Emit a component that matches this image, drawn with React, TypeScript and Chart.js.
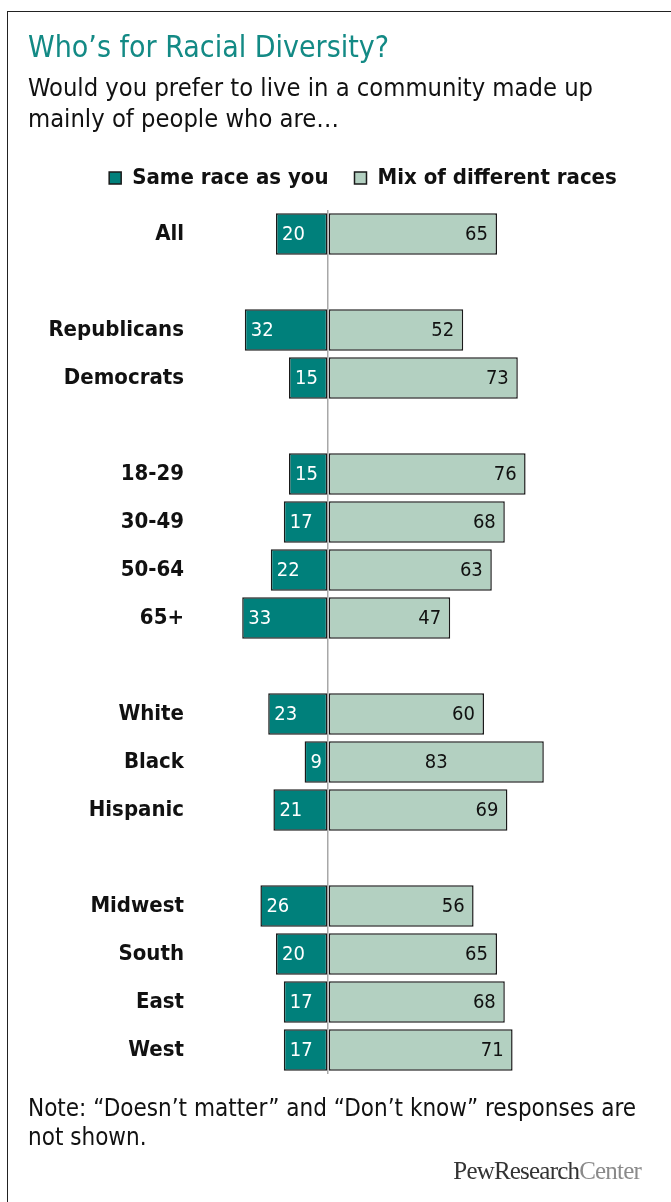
import React, { useEffect, useRef } from "react";
import { Chart, registerables } from "chart.js";

Chart.register(...registerables);

const categories = [
  "All", "",
  "Republicans", "Democrats", "",
  "18-29", "30-49", "50-64", "65+", "",
  "White", "Black", "Hispanic", "",
  "Midwest", "South", "East", "West",
];
const sameRace: (number | null)[] = [
  20, null,
  32, 15, null,
  15, 17, 22, 33, null,
  23, 9, 21, null,
  26, 20, 17, 17,
];
const mixRaces: (number | null)[] = [
  65, null,
  52, 73, null,
  76, 68, 63, 47, null,
  60, 83, 69, null,
  56, 65, 68, 71,
];
const seriesNames = ["Same race as you", "Mix of different races"];
const titleText = "Who\u2019s for Racial Diversity?";
const subtitleLines = [
  "Would you prefer to live in a community made up",
  "mainly of people who are\u2026",
];
const noteLines = [
  "Note: \u201cDoesn\u2019t matter\u201d and \u201cDon\u2019t know\u201d responses are",
  "not shown.",
];

const FONT = "'DejaVu Sans Condensed', 'DejaVu Sans', sans-serif";
const TEAL = "#00807b";
const LIGHT = "#b3d0c1";
const centeredMixLabels = new Set(["Black"]);
const LEGEND_CENTER_X = 363;

const labelPlugin = {
  id: "barLabels",
  afterLayout(chart: any) {
    const lg = chart.legend;
    if (lg) {
      const off = LEGEND_CENTER_X - (lg.left + lg.right) / 2;
      lg.left += off;
      lg.right += off;
    }
  },
  afterDatasetsDraw(chart: any) {
    const ctx = chart.ctx;
    ctx.save();
    ctx.textBaseline = "middle";
    ctx.font = `20px ${FONT}`;
    chart.data.datasets.forEach((ds: any, di: number) => {
      const meta = chart.getDatasetMeta(di);
      meta.data.forEach((el: any, i: number) => {
        const raw = di === 0 ? sameRace[i] : mixRaces[i];
        if (raw == null) return;
        const txt = String(raw);
        if (di === 0) {
          ctx.fillStyle = "#ffffff";
          ctx.textAlign = "left";
          ctx.fillText(txt, el.x + 6, el.y + 1);
        } else {
          ctx.fillStyle = "#111111";
          if (centeredMixLabels.has(categories[i])) {
            ctx.textAlign = "center";
            ctx.fillText(txt, (el.x + el.base) / 2, el.y + 1);
          } else {
            ctx.textAlign = "right";
            ctx.fillText(txt, el.x - 9, el.y + 1);
          }
        }
      });
    });
    ctx.restore();
  },
};

function BarChart() {
  const ref = useRef<HTMLCanvasElement>(null);
  useEffect(() => {
    if (!ref.current) return;
    const chart = new Chart(ref.current, {
      type: "bar",
      data: {
        labels: categories,
        datasets: [
          {
            label: seriesNames[0],
            data: sameRace.map((v) => (v == null ? null : -v)),
            backgroundColor: TEAL,
            borderColor: "#1a1a1a",
            borderWidth: 1.5,
            borderSkipped: false,
            barPercentage: 0.86,
            categoryPercentage: 1,
          },
          {
            label: seriesNames[1],
            data: mixRaces,
            backgroundColor: LIGHT,
            borderColor: "#1a1a1a",
            borderWidth: 1.5,
            borderSkipped: false,
            barPercentage: 0.86,
            categoryPercentage: 1,
          },
        ],
      },
      options: {
        indexAxis: "y",
        animation: false,
        responsive: false,
        maintainAspectRatio: false,
        layout: { padding: { left: 0, right: 57, top: 141, bottom: 128 } },
        plugins: {
          legend: {
            display: true,
            position: "top",
            align: "center",
            labels: {
              boxWidth: 12,
              boxHeight: 12,
              padding: 26,
              color: "#111",
              font: { family: FONT, size: 22, weight: "bold" },
            },
          },
          tooltip: { enabled: false },
          title: { display: false },
        },
        scales: {
          x: {
            type: "linear",
            position: "top",
            stacked: true,
            min: -40,
            max: 110,
            z: 1,
            ticks: { display: false, stepSize: 10 },
            border: { display: false },
            grid: {
              drawTicks: false,
              lineWidth: 1.5,
              color: (c: any) => (c.tick && c.tick.value === 0 ? "#a8a8a8" : "rgba(0,0,0,0)"),
            },
            afterFit: (s: any) => {
              s.height = 11;
            },
          },
          y: {
            type: "category",
            stacked: true,
            ticks: {
              color: "#111",
              padding: 40,
              font: { family: FONT, size: 22, weight: "bold" },
            },
            border: { display: false },
            grid: { display: false, drawTicks: false },
            afterFit: (s: any) => {
              s.width = 224;
            },
          },
        },
      },
      plugins: [labelPlugin],
    });
    return () => chart.destroy();
  }, []);
  return (
    <canvas
      ref={ref}
      width={671}
      height={1202}
      style={{ position: "absolute", left: 0, top: 0, width: 671, height: 1202 }}
    />
  );
}

export default function App() {
  return (
    <div
      style={{
        position: "absolute",
        left: 0,
        top: 0,
        width: 671,
        height: 1202,
        overflow: "hidden",
        background: "#fff",
        fontFamily: FONT,
      }}
    >
      <div
        style={{
          position: "absolute",
          left: 7,
          top: 11,
          width: 800,
          height: 1400,
          borderLeft: "1.5px solid #222",
          borderTop: "1.5px solid #222",
        }}
      />
      <BarChart />
      <div
        style={{
          position: "absolute",
          left: 28,
          top: 29,
          fontSize: 30,
          lineHeight: "36px",
          color: "#138a85",
          whiteSpace: "nowrap",
        }}
      >
        {titleText}
      </div>
      <div
        style={{
          position: "absolute",
          left: 28,
          top: 72,
          fontSize: 25.3,
          lineHeight: "31px",
          color: "#111",
          whiteSpace: "nowrap",
        }}
      >
        {subtitleLines.map((l) => (
          <div key={l}>{l}</div>
        ))}
      </div>
      <div
        style={{
          position: "absolute",
          left: 28,
          top: 1094,
          fontSize: 24,
          lineHeight: "29px",
          color: "#111",
          whiteSpace: "nowrap",
        }}
      >
        {noteLines.map((l) => (
          <div key={l}>{l}</div>
        ))}
      </div>
      <div
        style={{
          position: "absolute",
          right: 30,
          top: 1157,
          fontSize: 25,
          lineHeight: "28px",
          fontFamily: "'Liberation Serif', serif",
          letterSpacing: "-0.8px",
          whiteSpace: "nowrap",
        }}
      >
        <span style={{ color: "#333" }}>PewResearch</span>
        <span style={{ color: "#8a8a8a" }}>Center</span>
      </div>
    </div>
  );
}
